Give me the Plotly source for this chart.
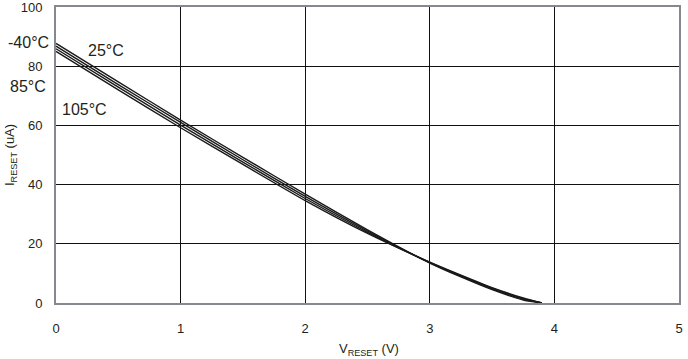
import plotly.graph_objects as go

v_reset = [0, 0.5, 1, 1.5, 2, 2.5, 3, 3.25, 3.5, 3.75, 3.9]
i_m40 = [87.7, 74.7, 61.8, 49.2, 36.8, 24.7, 13.5, 8.8, 4.5, 1.0, 0]
i_25 = [86.8, 73.8, 61.0, 48.4, 36.0, 24.3, 13.6, 9.0, 4.8, 1.3, 0]
i_85 = [85.9, 72.9, 60.1, 47.6, 35.3, 23.9, 13.7, 9.2, 5.0, 1.5, 0]
i_105 = [85.0, 72.0, 59.2, 46.8, 34.6, 23.5, 13.8, 9.4, 5.2, 1.7, 0.05]

x_ticks = [0, 1, 2, 3, 4, 5]
y_ticks = [0, 20, 40, 60, 80, 100]

FONT = "Liberation Sans, Arial, sans-serif"
TXT = "#231f20"

fig = go.Figure()
for name, vals in [("-40°C", i_m40), ("25°C", i_25), ("85°C", i_85), ("105°C", i_105)]:
    fig.add_trace(go.Scatter(x=v_reset, y=vals, mode="lines", name=name,
                             line=dict(color="#1a1a1a", width=1.4, shape="spline", smoothing=0.5),
                             showlegend=False, cliponaxis=True))

W, H = 688, 359
L, R, T, B = 56, 9, 7, 56
pw = W - L - R
ph = H - T - B

def px_to_paper_x(px):
    return (px - L) / pw

def px_to_paper_y(py):
    return (H - B - py) / ph

fig.update_layout(
    width=W, height=H,
    margin=dict(l=L, r=R, t=T, b=B, pad=0, autoexpand=False),
    plot_bgcolor="white", paper_bgcolor="white",
    font=dict(family=FONT, size=13, color=TXT),
    xaxis=dict(range=[0, 5], tickvals=x_ticks, ticktext=[str(t) for t in x_ticks],
               showgrid=True, gridcolor="#111111", gridwidth=1,
               showline=True, linecolor="#85898d", linewidth=2, mirror=True,
               ticks="", ticklabelstandoff=12, zeroline=False, automargin=False,
               ticklabeloverflow="allow",
               tickfont=dict(size=13, color=TXT)),
    yaxis=dict(range=[0, 100], tickvals=y_ticks, ticktext=[str(t) for t in y_ticks],
               showgrid=True, gridcolor="#111111", gridwidth=1,
               showline=True, linecolor="#85898d", linewidth=2, mirror=True,
               ticks="", ticklabelstandoff=9, zeroline=False, automargin=False,
               ticklabeloverflow="allow",
               tickfont=dict(size=13, color=TXT)),
)

annots = [
    dict(text="-40°C", xref="paper", yref="paper", x=px_to_paper_x(28), y=px_to_paper_y(43)),
    dict(text="25°C", xref="paper", yref="paper", x=px_to_paper_x(106), y=px_to_paper_y(50)),
    dict(text="85°C", xref="paper", yref="paper", x=px_to_paper_x(28), y=px_to_paper_y(86)),
    dict(text="105°C", xref="paper", yref="paper", x=px_to_paper_x(84), y=px_to_paper_y(109)),
]
for a in annots:
    fig.add_annotation(**a, showarrow=False, xanchor="center", yanchor="middle",
                       font=dict(family=FONT, size=16, color=TXT))

fig.add_annotation(text="V<sub>RESET</sub> (V)", xref="paper", yref="paper",
                   x=px_to_paper_x(369), y=px_to_paper_y(349), showarrow=False,
                   xanchor="center", yanchor="middle", font=dict(family=FONT, size=13, color=TXT))
fig.add_annotation(text="I<sub>RESET</sub> (uA)", xref="paper", yref="paper",
                   x=px_to_paper_x(10), y=px_to_paper_y(155), showarrow=False, textangle=-90,
                   xanchor="center", yanchor="middle", font=dict(family=FONT, size=13, color=TXT))

fig.write_html("out.html", config={"displayModeBar": False},
               post_script="document.body.style.margin='0';document.body.style.padding='0';document.body.style.overflow='hidden';")
